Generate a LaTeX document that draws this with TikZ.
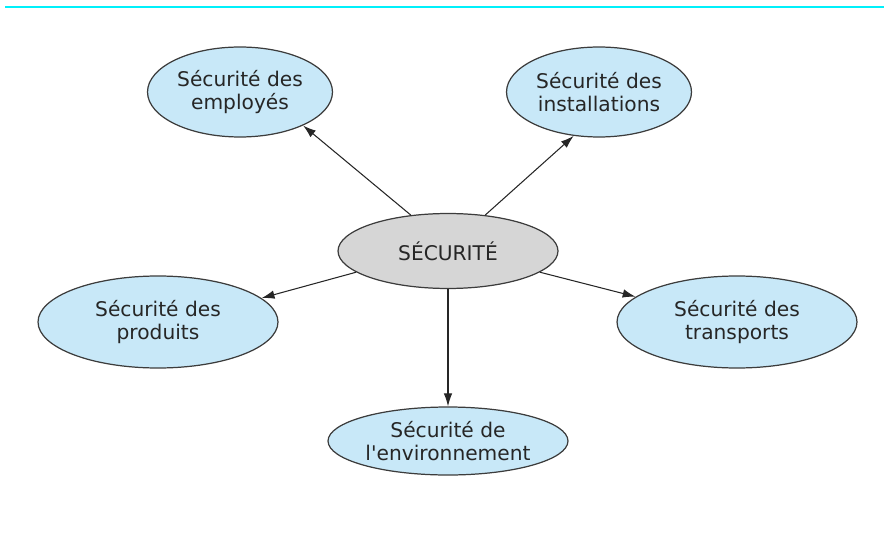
\documentclass[tikz,border=0pt]{standalone}
\usepackage{fontspec}
\setmainfont{DejaVu Sans}
\usetikzlibrary{shapes.geometric,arrows.meta}

\definecolor{bulle}{RGB}{200,232,248}
\definecolor{centre}{RGB}{214,214,214}
\definecolor{trait}{RGB}{60,60,60}
\definecolor{filet}{RGB}{0,240,250}

\tikzset{
  bulle/.style={ellipse, draw=trait, line width=0.7pt, fill=bulle, inner sep=0pt,
    align=center, text=black!85, font=\fontsize{11.5}{13.5}\selectfont},
  fleche/.style={-{Latex[length=2.6mm,width=1.7mm]}, line width=0.6pt, black!85}
}

\begin{document}
\begin{tikzpicture}[x=0.02cm,y=-0.02cm]
        \useasboundingbox (0,0) rectangle (884,533);
        \draw[filet, line width=1.2pt] (5,7) -- (884,7); %filet du haut

        \node[bulle, fill=centre, minimum width=4.4cm, minimum height=1.5cm] (securite) at (448,251) {SÉCURITÉ}; %centre

        \node[bulle, minimum width=3.7cm, minimum height=1.8cm] (employes) at (240,92) {Sécurité des\\employés};
        \node[bulle, minimum width=3.7cm, minimum height=1.8cm] (installations) at (599,92) {Sécurité des\\installations};
        \node[bulle, minimum width=4.8cm, minimum height=1.84cm] (produits) at (158,322) {Sécurité des\\produits};
        \node[bulle, minimum width=4.8cm, minimum height=1.84cm] (transports) at (737,322) {Sécurité des\\transports};
        \node[bulle, minimum width=4.8cm, minimum height=1.36cm] (environnement) at (448,441) {Sécurité de\\l\textquotesingle environnement};

        \draw[fleche] (securite.136) -- (employes.-28);
        \draw[fleche] (securite.44) -- (installations.-120);
        \draw[fleche] (securite.193) -- (produits.13);
        \draw[fleche] (securite.-13) -- (transports.166);
        \draw[fleche] (securite) -- (environnement);
    \end{tikzpicture}
\end{document}
